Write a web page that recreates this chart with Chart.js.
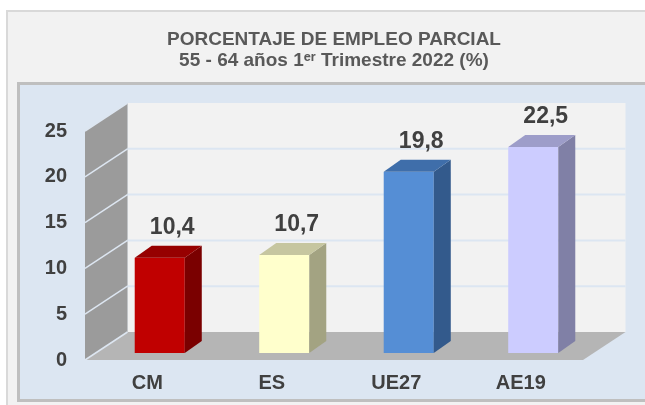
<!DOCTYPE html>
<html>
<head>
<meta charset="utf-8">
<script src="https://cdn.jsdelivr.net/npm/chart.js@4.4.0/dist/chart.umd.min.js"></script>
<style>
  html, body { margin: 0; padding: 0; background: #fff; }
  #wrap { width: 645px; height: 405px; }
</style>
</head>
<body>
<div id="wrap"><canvas id="grafico"></canvas></div>
<script>
const categorias = ['CM', 'ES', 'UE27', 'AE19'];
const porcentajes = [10.4, 10.7, 19.8, 22.5];
const marcasEje = [0, 5, 10, 15, 20, 25];

const colorFrente = ['#c00000', '#ffffcc', '#558ed5', '#ccccff'];
const colorLado = ['#7a0000', '#a3a382', '#335a8c', '#8080a6'];
const colorTecho = ['#960000', '#c6c6a0', '#3f6eaa', '#9d9dc9'];

// desplazamientos del falso 3D
const fondo = { x: 42.5, y: -28 };   // pared del fondo
const desp = { x: 12.5, y: -7 };     // plano donde se apoyan las barras
const prof = { x: 17, y: -12 };      // grosor de cada barra

const fuente = "'Liberation Sans', Arial, sans-serif";

function poligono(ctx, pts, color) {
    ctx.beginPath();
    ctx.moveTo(pts[0][0], pts[0][1]);
    for (let i = 1; i < pts.length; i++) ctx.lineTo(pts[i][0], pts[i][1]);
    ctx.closePath();
    ctx.fillStyle = color;
    ctx.fill();
}

const escena3d = {
    id: 'escena3d',
    beforeDraw(chart) {
        const { ctx, chartArea: a, scales: { y } } = chart;
        ctx.save();
        ctx.fillStyle = '#ffffff';
        ctx.fillRect(0, 0, chart.width, chart.height);
        // marco exterior
        ctx.fillStyle = '#f2f2f2';
        ctx.fillRect(6, 10, chart.width, chart.height);
        ctx.strokeStyle = '#d9d9d9';
        ctx.lineWidth = 2;
        ctx.strokeRect(7, 11, chart.width + 10, chart.height + 10);
        // caja del grafico
        ctx.fillStyle = '#dce6f2';
        ctx.fillRect(17, 82, chart.width, 320);
        ctx.strokeStyle = '#bfbfbf';
        ctx.lineWidth = 3;
        ctx.strokeRect(18.5, 83.5, chart.width + 10, 317);

        const fx = fondo.x, fy = fondo.y;
        // pared del fondo
        ctx.fillStyle = '#f2f2f2';
        ctx.fillRect(a.left + fx, a.top + fy, a.width, a.height);
        // pared izquierda
        poligono(ctx, [[a.left, a.top], [a.left + fx, a.top + fy], [a.left + fx, a.bottom + fy], [a.left, a.bottom]], '#9b9b9b');
        // suelo
        poligono(ctx, [[a.left, a.bottom], [a.right, a.bottom], [a.right + fx, a.bottom + fy], [a.left + fx, a.bottom + fy]], '#b5b5b5');

        marcasEje.forEach(v => {
            const py = y.getPixelForValue(v);
            ctx.strokeStyle = '#dde6f1';
            ctx.lineWidth = 1.5;
            ctx.beginPath();
            ctx.moveTo(a.left, py);
            ctx.lineTo(a.left + fx, py + fy);
            ctx.stroke();
            if (v > 0 && v < 25) {
                ctx.strokeStyle = '#dce6f2';
                ctx.lineWidth = 2;
                ctx.beginPath();
                ctx.moveTo(a.left + fx, py + fy);
                ctx.lineTo(a.right + fx, py + fy);
                ctx.stroke();
            }
        });
        ctx.restore();
    },
    beforeDatasetDraw(chart) {
        chart.ctx.save();
        chart.ctx.translate(desp.x, desp.y);
    },
    afterDatasetDraw(chart) {
        const ctx = chart.ctx;
        ctx.restore();
        chart.getDatasetMeta(0).data.forEach((el, i) => {
            const l = el.x - el.width / 2 + desp.x;
            const r = el.x + el.width / 2 + desp.x;
            const top = el.y + desp.y;
            const base = el.base + desp.y;
            poligono(ctx, [[r, top], [r + prof.x, top + prof.y], [r + prof.x, base + prof.y], [r, base]], colorLado[i]);
            poligono(ctx, [[l, top], [r, top], [r + prof.x, top + prof.y], [l + prof.x, top + prof.y]], colorTecho[i]);
        });
    },
    afterDatasetsDraw(chart) {
        const ctx = chart.ctx;
        ctx.save();
        ctx.font = 'bold 23px ' + fuente;
        ctx.fillStyle = '#404040';
        ctx.textAlign = 'center';
        ctx.textBaseline = 'alphabetic';
        chart.getDatasetMeta(0).data.forEach((el, i) => {
            const txt = porcentajes[i].toFixed(1).replace('.', ',');
            ctx.fillText(txt, el.x + desp.x + 12.5, el.y + desp.y - 23.5);
        });
        ctx.restore();
    }
};

new Chart(document.getElementById('grafico'), {
    type: 'bar',
    data: {
        labels: categorias,
        datasets: [{
            data: porcentajes,
            backgroundColor: colorFrente,
            borderWidth: 0,
            barPercentage: 0.402,
            categoryPercentage: 1
        }]
    },
    options: {
        responsive: true,
        maintainAspectRatio: false,
        animation: false,
        layout: { padding: { left: 0, right: 62, top: 0, bottom: 0 } },
        plugins: {
            legend: { display: false },
            tooltip: { enabled: false },
            title: {
                display: true,
                fullSize: false,
                text: ['PORCENTAJE DE EMPLEO PARCIAL', '55 - 64 años 1ᵉʳ Trimestre 2022 (%)'],
                color: '#595959',
                font: { family: fuente, size: 19, weight: 'bold', lineHeight: 1.1 },
                padding: { top: 29.5, bottom: 59.7 }
            }
        },
        scales: {
            x: {
                grid: { display: false, drawTicks: false },
                border: { display: false },
                ticks: { color: '#404040', padding: 11, font: { family: fuente, size: 20, weight: 'bold' } },
                afterFit(s) { s.height = 45; }
            },
            y: {
                min: 0,
                max: 25,
                grid: { display: false, drawTicks: false },
                border: { display: false },
                ticks: { stepSize: 5, color: '#404040', padding: 18, font: { family: fuente, size: 20, weight: 'bold' } },
                afterFit(s) { s.width = 85; }
            }
        }
    },
    plugins: [escena3d]
});
</script>
</body>
</html>
